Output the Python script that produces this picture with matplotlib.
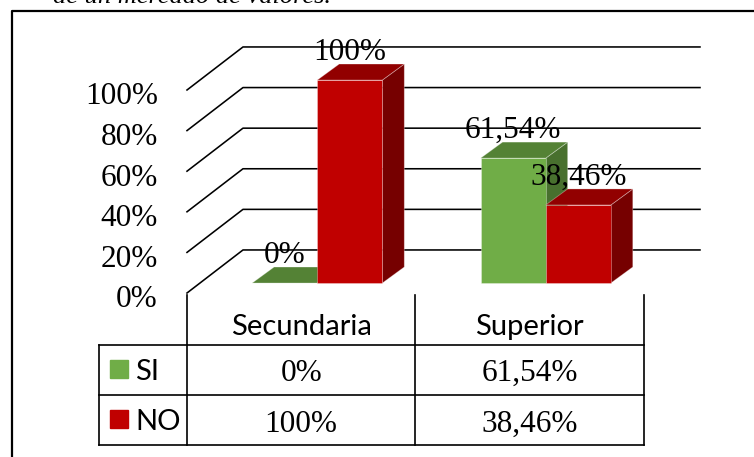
import matplotlib
matplotlib.use("Agg")
import matplotlib.pyplot as plt
from matplotlib.lines import Line2D
from matplotlib.patches import Polygon

categories = ["Secundaria", "Superior"]
series_names = ["SI", "NO"]
si_values = [0, 61.54]
no_values = [100, 38.46]
y_ticks = [0, 20, 40, 60, 80, 100]
title_text = "de un mercado de valores."

# front, top, side shades per series
series_colors = {
    "SI": ("#70AD47", "#548235", "#48702E"),
    "NO": ("#C00000", "#920000", "#760000"),
}

# 3D offsets in data units (x: categories, y: percent)
WALL_DX, WALL_DY = 0.245, 21.2
BAR_FX, BAR_FY = 0.07, 4.9
BAR_DX, BAR_DY = 0.096, 7.9
BAR_W = 0.285

serif = "Liberation Serif"
sans = "Lato"
SERIF_SIZE = 22.5


def fmt(v):
    return "{:g}%".format(v).replace(".", ",")


def bar3d(ax, x0, v, colors, z):
    face, top, side = colors
    x0 = x0 + BAR_FX
    y0 = BAR_FY
    x1 = x0 + BAR_W
    y1 = y0 + v
    front = [(x0, y0), (x1, y0), (x1, y1), (x0, y1)]
    topf = [(x0, y1), (x1, y1), (x1 + BAR_DX, y1 + BAR_DY), (x0 + BAR_DX, y1 + BAR_DY)]
    sidef = [(x1, y0), (x1 + BAR_DX, y0 + BAR_DY), (x1 + BAR_DX, y1 + BAR_DY), (x1, y1)]
    for pts, c in [(sidef, side), (topf, top), (front, face)]:
        ax.add_patch(Polygon(pts, closed=True, facecolor=c, edgecolor=(1, 1, 1, 0.35),
                             lw=0.6, clip_on=False, zorder=z))
    # data label
    ax.text((x0 + x1) / 2, y1 + BAR_DY + 2, fmt(v), ha="center", va="baseline",
            fontsize=SERIF_SIZE, family=serif, zorder=20)


fig = plt.figure(figsize=(7.54, 4.57), dpi=100)

# chart axes: front plane of the floor
ax = fig.add_axes([187/754, 164/457, 457/754, 203/457])
ax.set_xlim(0, 2)
ax.set_ylim(0, 100)
ax.axis("off")

for v in y_ticks:
    ax.plot([0, WALL_DX, 2 + WALL_DX], [v, v + WALL_DY, v + WALL_DY],
            color="k", lw=1.15, clip_on=False, zorder=1)
    ax.text(-0.127, v - 7.1, "{}%".format(v), ha="right", va="baseline",
            fontsize=SERIF_SIZE, family=serif)

z = 2
for i in range(len(categories)):
    center = i + 0.5
    bar3d(ax, center - BAR_W, si_values[i], series_colors["SI"], z)
    bar3d(ax, center, no_values[i], series_colors["NO"], z + 1)
    z += 2

# data table
tab = fig.add_axes([99/754, 12/457, 545/754, 150/457])
tab.set_xlim(-0.385, 2)
tab.set_ylim(0, 3)
tab.axis("off")
for y in [0, 1, 2]:
    tab.plot([-0.385, 2], [y, y], color="k", lw=1.2, clip_on=False)
tab.plot([-0.385, -0.385], [0, 2], color="k", lw=1.2, clip_on=False)
for x in [0, 1, 2]:
    tab.plot([x, x], [0, 3], color="k", lw=1.2, clip_on=False)

for i, cat in enumerate(categories):
    tab.text(i + 0.5, 2.2, cat, ha="center", va="baseline", fontsize=21, family=sans)
    tab.text(i + 0.5, 1.28, fmt(si_values[i]), ha="center", va="baseline",
             fontsize=SERIF_SIZE, family=serif)
    tab.text(i + 0.5, 0.26, fmt(no_values[i]), ha="center", va="baseline",
             fontsize=SERIF_SIZE, family=serif)

for name, row in zip(series_names, [1, 0]):
    tab.plot([-0.298], [row + 0.52], marker="s", ms=13, color=series_colors[name][0],
             linestyle="none", clip_on=False)
    tab.text(-0.228, row + 0.31, name, ha="left", va="baseline", fontsize=21, family=sans)

# frame and cropped caption
fig.add_artist(Line2D([12/754, 12/754, 1.0], [0, 1 - 10.5/457, 1 - 10.5/457], color="k", lw=1.6))
fig.text(53/754, 1 - 3/457, title_text, fontsize=19, style="italic", family=serif, va="baseline")

fig.savefig("out.png", dpi=100)
